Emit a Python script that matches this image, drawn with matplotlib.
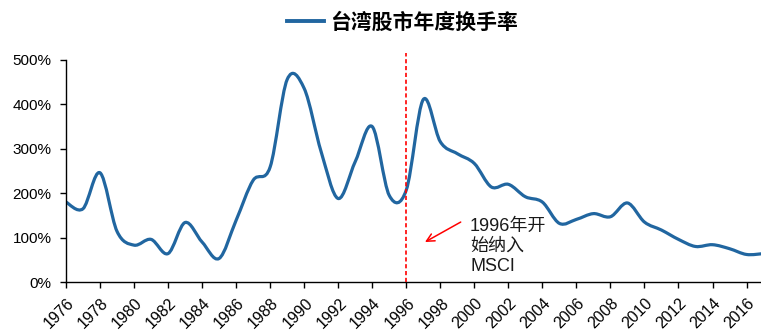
import matplotlib
matplotlib.use("Agg")
import matplotlib.pyplot as plt
import numpy as np
from matplotlib.path import Path
from matplotlib.patches import PathPatch
from matplotlib.lines import Line2D
from matplotlib.ticker import FuncFormatter
from matplotlib.transforms import ScaledTranslation

plt.rcParams['font.family'] = ['Liberation Sans', 'Noto Sans CJK SC', 'DejaVu Sans']

years = list(range(1976, 2018))
turnover = [180, 165, 246, 114, 83, 96, 64, 134, 90, 53,
            139, 229, 259, 456, 436, 293, 188, 271, 350, 195,
            207, 411, 316, 289, 267, 214, 220, 192, 180, 132,
            141, 154, 147, 178, 135, 117, 96, 80, 84, 75,
            62, 64]
series_label = "台湾股市年度换手率"
event_year = 1996
event_text = "1996年开\n始纳入\nMSCI"
tick_years = list(range(1976, 2017, 2))

line_color = '#2166a0'


def smooth_path(xs, ys):
    """Cubic Bezier path through every point (Catmull-Rom style control points)."""
    pts = np.column_stack([xs, ys]).astype(float)
    n = len(pts)
    verts = [pts[0]]
    codes = [Path.MOVETO]
    for i in range(n - 1):
        p0 = pts[i - 1] if i > 0 else pts[i]
        p1 = pts[i]
        p2 = pts[i + 1]
        p3 = pts[i + 2] if i + 2 < n else pts[i + 1]
        c1 = p1 + (p2 - p0) / 6.0
        c2 = p2 - (p3 - p1) / 6.0
        verts += [c1, c2, p2]
        codes += [Path.CURVE4] * 3
    return Path(verts, codes)


fig = plt.figure(figsize=(7.61, 3.32), dpi=100)
ax = fig.add_axes([0.0867, 0.1506, 0.9133, 0.6687])

vals = np.array(turnover) / 100.0
patch = PathPatch(smooth_path(years, vals), facecolor='none', edgecolor=line_color,
                  lw=2.3, capstyle='round', joinstyle='round')
ax.add_patch(patch)

ax.set_xlim(1976, 2016.85)
ax.set_ylim(0, 5)

# vertical marker for the inclusion year
ax.plot([event_year, event_year], [0, 5.16], color='#ff0000', lw=1.2,
        ls=(0, (2.5, 1.6)), clip_on=False, zorder=3)

ax.annotate("", xy=(1997.1, 0.9), xytext=(1999.2, 1.35),
            arrowprops=dict(arrowstyle='->', color='#ff0000', lw=1.1,
                            mutation_scale=14, shrinkA=0, shrinkB=0))
ax.text(1999.75, 0.80, event_text, fontsize=13, ha='left', va='center',
        linespacing=1.25, color='#1a1a1a')

for s in ['top', 'right']:
    ax.spines[s].set_visible(False)
for s in ['left', 'bottom']:
    ax.spines[s].set_linewidth(1.0)
    ax.spines[s].set_color('black')

ax.set_yticks([0, 1, 2, 3, 4, 5])
ax.yaxis.set_major_formatter(FuncFormatter(lambda v, p: f"{int(round(v * 100))}%"))
ax.set_xticks(tick_years)
ax.set_xticklabels([str(y) for y in tick_years], rotation=45, ha='right',
                   va='center', rotation_mode='anchor')
ax.tick_params(axis='both', direction='out', length=4.5, width=1, colors='black')
ax.tick_params(axis='x', pad=9, labelsize=11.5)
ax.tick_params(axis='y', pad=6, labelsize=11)
shift = ScaledTranslation(6 / 100, 0, fig.dpi_scale_trans)
for lbl in ax.get_xticklabels():
    lbl.set_transform(lbl.get_transform() + shift)

handle = Line2D([], [], color=line_color, lw=2.8)
fig.legend([handle], [series_label], loc='center', bbox_to_anchor=(0.529, 0.934),
           frameon=False, handlelength=1.75, handletextpad=0.3,
           prop=dict(family=['Noto Sans CJK SC'], weight='bold', size=15))

fig.savefig('out.png', dpi=100)
